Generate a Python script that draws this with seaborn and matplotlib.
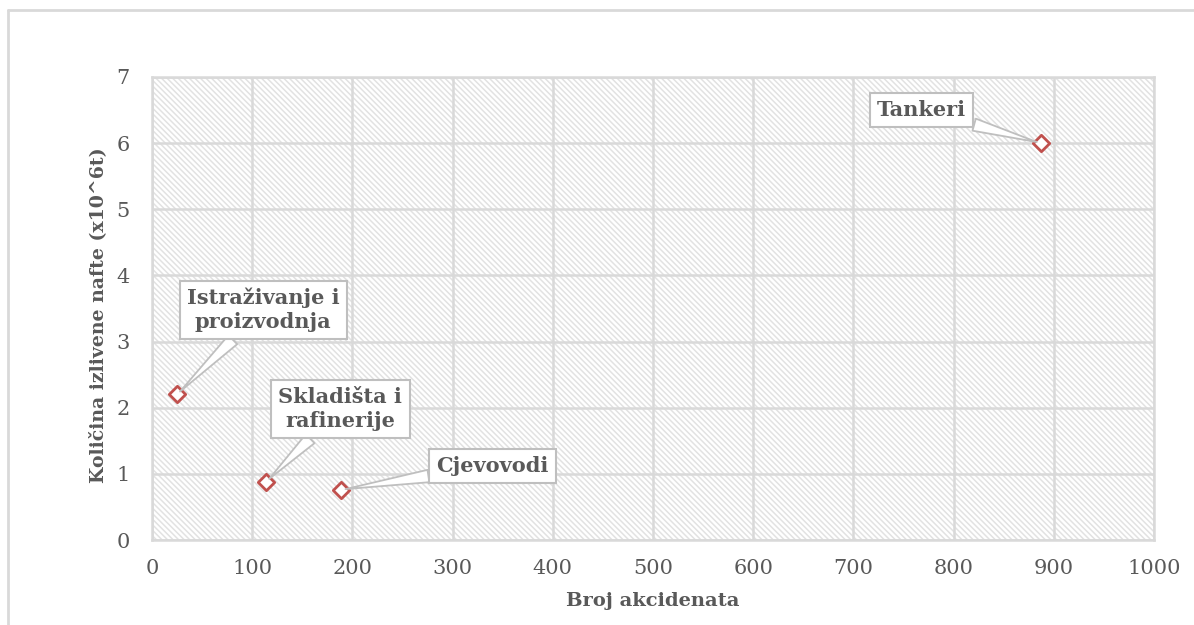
import matplotlib
matplotlib.use("Agg")
import matplotlib.pyplot as plt
import seaborn as sns
import pandas as pd
from matplotlib.patches import Rectangle
from matplotlib.lines import Line2D

categories = ["Tankeri", "Istraživanje i\nproizvodnja", "Skladišta i\nrafinerije", "Cjevovodi"]
accidents = [887, 25, 114, 189]
spilled = [6.0, 2.2, 0.88, 0.76]
label_x = [768, 111, 188, 340]
label_y = [6.5, 3.48, 1.98, 1.12]
x_ticks = [0, 100, 200, 300, 400, 500, 600, 700, 800, 900, 1000]
y_ticks = [0, 1, 2, 3, 4, 5, 6, 7]

df = pd.DataFrame({"cat": categories, "x": accidents, "y": spilled})

sns.set_theme(style="white")
plt.rcParams["font.family"] = ["DejaVu Serif"]
plt.rcParams["hatch.linewidth"] = 1.1
plt.rcParams["hatch.color"] = "#e2e2e2"

fig = plt.figure(figsize=(11.94, 6.25), dpi=100)
W, H = 1194, 625
ax = fig.add_axes([152 / W, 1 - 540 / H, (1154 - 152) / W, (540 - 77) / H])

ax.add_patch(Rectangle((0, 0), 1, 1, transform=ax.transAxes, facecolor="white",
                       edgecolor="#e2e2e2", hatch="\\\\\\\\\\\\", lw=0, zorder=0))

sns.scatterplot(data=df, x="x", y="y", ax=ax, marker="D", s=70,
                facecolor="white", edgecolor="#c0504d", linewidth=2, zorder=5)

ax.set_xlim(0, 1000)
ax.set_ylim(0, 7)
ax.set_xticks(x_ticks)
ax.set_yticks(y_ticks)
ax.grid(True, color="#d9d9d9", lw=1.8, zorder=1)
ax.set_axisbelow(True)
for s in ax.spines.values():
    s.set_visible(True)
    s.set_color("#d9d9d9")
    s.set_linewidth(1.8)
ax.tick_params(axis="both", length=0, labelsize=15, labelcolor="#595959")
ax.tick_params(axis="x", pad=14)
ax.tick_params(axis="y", pad=16)

ax.set_xlabel("Broj akcidenata", fontsize=14, fontweight="bold", color="#595959", labelpad=10)
ax.set_ylabel("Količina izlivene nafte (x10^6t)", fontsize=13.6, fontweight="bold",
              color="#595959")
ax.yaxis.set_label_coords(-0.045, 0.485)

for c, px, py, lx, ly in zip(categories, accidents, spilled, label_x, label_y):
    ax.annotate(c, xy=(px, py), xytext=(lx, ly), ha="center", va="center",
                fontsize=15, fontweight="bold", color="#595959", linespacing=1.2,
                bbox=dict(boxstyle="square,pad=0.35", fc="white", ec="#bfbfbf", lw=1.5),
                arrowprops=dict(arrowstyle="wedge,tail_width=0.6,shrink_factor=0.5",
                                fc="white", ec="#bfbfbf", lw=1.3, shrinkA=0, shrinkB=3),
                zorder=6)

fig.add_artist(Line2D([8 / W, 8 / W], [0, 1 - 10 / H], color="#d9d9d9", lw=2))
fig.add_artist(Line2D([8 / W, 1], [1 - 10 / H, 1 - 10 / H], color="#d9d9d9", lw=2))

fig.savefig("out.png", dpi=100)
